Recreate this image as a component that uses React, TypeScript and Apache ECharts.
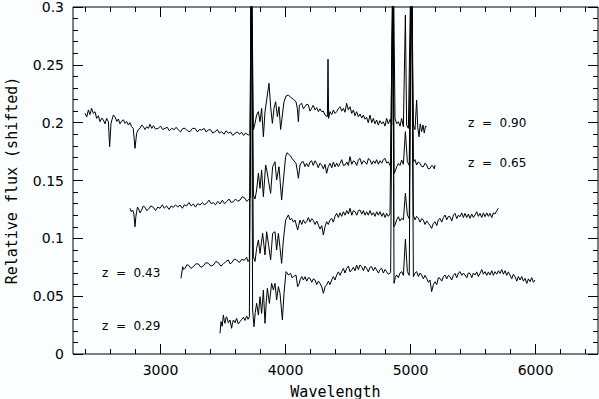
import React, { useEffect, useRef } from "react";
import * as echarts from "echarts";

// Spectra: [wavelength, relative flux (shifted)]
const specZ090: [number, number][] = [
  [2396,0.208],[2410,0.205],[2423,0.211],[2436,0.207],[2449,0.2124],[2462,0.208],[2476,0.2095],[2489,0.2037],[2503,0.206],[2516,0.2008],[2530,0.204],[2543,0.2023],[2556,0.199],[2569,0.2037],[2583,0.2008],[2593,0.1792],[2604,0.1994],[2613,0.203],[2623,0.2066],[2636,0.2052],[2650,0.201],[2663,0.2032],[2676,0.199],[2689,0.2014],[2703,0.2025],[2716,0.1994],[2729,0.201],[2743,0.198],[2756,0.2],[2769,0.1965],[2782,0.195],[2796,0.1778],[2809,0.1908],[2822,0.194],[2836,0.1951],[2850,0.198],[2863,0.1965],[2876,0.194],[2889,0.1965],[2903,0.195],[2916,0.1986],[2930,0.195],[2943,0.1974],[2960,0.1945],[2983,0.1951],[3000,0.197],[3018,0.194],[3036,0.1951],[3055,0.196],[3070,0.193],[3089,0.1951],[3110,0.194],[3125,0.196],[3143,0.1937],[3160,0.192],[3178,0.195],[3196,0.1951],[3215,0.193],[3236,0.1922],[3255,0.195],[3276,0.1951],[3295,0.192],[3310,0.194],[3329,0.1937],[3350,0.195],[3365,0.192],[3383,0.1937],[3400,0.194],[3418,0.191],[3436,0.1922],[3455,0.194],[3470,0.191],[3489,0.1922],[3508,0.19],[3525,0.193],[3543,0.1908],[3560,0.192],[3578,0.189],[3596,0.1908],[3615,0.192],[3630,0.19],[3649,0.1917],[3665,0.189],[3680,0.191],[3703,0.1893],[3716,0.19],[3727,0.36],[3743,0.1937],[3756,0.1994],[3769,0.2066],[3783,0.2095],[3796,0.2008],[3809,0.2124],[3823,0.1879],[3836,0.2095],[3849,0.2196],[3868,0.234],[3881,0.2138],[3895,0.1994],[3908,0.2124],[3921,0.2181],[3935,0.2052],[3948,0.2138],[3961,0.1942],[3975,0.2066],[3988,0.2181],[4004,0.223],[4023,0.2239],[4041,0.2219],[4063,0.2202],[4084,0.2181],[4095,0.212],[4103,0.2008],[4111,0.2153],[4129,0.2167],[4143,0.212],[4156,0.2138],[4170,0.216],[4183,0.2153],[4196,0.21],[4209,0.2124],[4222,0.215],[4236,0.211],[4250,0.213],[4263,0.2095],[4276,0.212],[4289,0.2095],[4303,0.21],[4316,0.2066],[4335,0.2052],[4340,0.2548],[4345,0.2037],[4356,0.2095],[4370,0.207],[4383,0.211],[4396,0.208],[4409,0.2095],[4422,0.212],[4436,0.2138],[4450,0.21],[4463,0.2124],[4476,0.209],[4489,0.2167],[4503,0.211],[4516,0.2138],[4530,0.208],[4543,0.211],[4556,0.206],[4569,0.2095],[4583,0.205],[4596,0.2075],[4610,0.204],[4623,0.2066],[4636,0.203],[4649,0.2046],[4662,0.2],[4676,0.2066],[4690,0.2],[4703,0.2037],[4716,0.199],[4729,0.2023],[4742,0.198],[4756,0.2017],[4770,0.199],[4783,0.2008],[4796,0.197],[4809,0.2037],[4822,0.199],[4836,0.2028],[4850,0.198],[4861,0.36],[4876,0.2037],[4890,0.199],[4903,0.2008],[4916,0.197],[4929,0.2037],[4943,0.1965],[4959,0.293],[4969,0.198],[4983,0.1951],[5007,0.36],[5023,0.198],[5036,0.194],[5049,0.2196],[5058,0.196],[5068,0.1878],[5078,0.199],[5089,0.1922],[5100,0.198],[5110,0.191],[5120,0.197],[5129,0.1965]
];

const specZ065: [number, number][] = [
  [2756,0.126],[2766,0.123],[2777,0.1245],[2787,0.121],[2796,0.11],[2803,0.119],[2809,0.123],[2816,0.127],[2823,0.126],[2836,0.122],[2849,0.1245],[2862,0.128],[2876,0.1268],[2890,0.124],[2903,0.1251],[2922,0.128],[2943,0.1268],[2960,0.124],[2978,0.127],[2996,0.126],[3015,0.129],[3030,0.126],[3049,0.128],[3068,0.125],[3085,0.128],[3103,0.1268],[3120,0.129],[3138,0.127],[3156,0.1288],[3175,0.126],[3190,0.129],[3209,0.128],[3228,0.131],[3245,0.128],[3263,0.1297],[3280,0.127],[3298,0.13],[3316,0.1288],[3335,0.131],[3350,0.129],[3369,0.1303],[3388,0.133],[3405,0.13],[3423,0.1308],[3440,0.129],[3458,0.132],[3476,0.1297],[3495,0.133],[3512,0.13],[3529,0.1317],[3548,0.134],[3565,0.131],[3583,0.1317],[3600,0.134],[3618,0.132],[3636,0.1331],[3655,0.136],[3676,0.1346],[3690,0.132],[3703,0.1331],[3718,0.135],[3727,0.36],[3743,0.1375],[3756,0.134],[3769,0.1418],[3783,0.1562],[3796,0.1432],[3809,0.1591],[3823,0.136],[3841,0.1634],[3852,0.158],[3863,0.1504],[3881,0.1389],[3897,0.1619],[3916,0.1662],[3929,0.1504],[3948,0.1619],[3958,0.148],[3969,0.1331],[3983,0.1504],[4001,0.1706],[4012,0.174],[4023,0.1729],[4041,0.1712],[4052,0.169],[4063,0.1677],[4084,0.1648],[4095,0.158],[4103,0.1519],[4116,0.1634],[4130,0.166],[4143,0.1662],[4156,0.162],[4169,0.1648],[4183,0.162],[4196,0.166],[4209,0.1671],[4222,0.163],[4236,0.167],[4249,0.1648],[4262,0.161],[4276,0.165],[4289,0.1634],[4303,0.16],[4316,0.164],[4329,0.1562],[4342,0.162],[4356,0.1648],[4370,0.161],[4383,0.166],[4396,0.1619],[4410,0.165],[4423,0.162],[4436,0.1648],[4450,0.168],[4463,0.163],[4476,0.1634],[4490,0.166],[4503,0.163],[4516,0.1706],[4530,0.164],[4543,0.167],[4556,0.1662],[4570,0.163],[4583,0.168],[4596,0.1691],[4610,0.164],[4623,0.167],[4636,0.1662],[4650,0.164],[4663,0.169],[4676,0.1677],[4690,0.164],[4703,0.167],[4716,0.1648],[4729,0.168],[4743,0.164],[4756,0.1671],[4770,0.165],[4783,0.168],[4796,0.1691],[4810,0.165],[4823,0.1662],[4841,0.1619],[4861,0.36],[4868,0.156],[4876,0.1576],[4890,0.162],[4903,0.1648],[4916,0.163],[4929,0.1677],[4943,0.164],[4959,0.1922],[4975,0.1662],[4990,0.163],[5007,0.36],[5023,0.1662],[5036,0.168],[5049,0.1634],[5062,0.166],[5076,0.1648],[5090,0.162],[5103,0.1619],[5116,0.165],[5129,0.1634],[5142,0.16],[5156,0.1605],[5170,0.163],[5183,0.1619],[5190,0.16],[5196,0.1634]
];

const specZ043: [number, number][] = [
  [3164,0.0654],[3177,0.0755],[3186,0.073],[3196,0.0741],[3210,0.077],[3223,0.0769],[3243,0.074],[3263,0.0755],[3283,0.078],[3303,0.0778],[3323,0.075],[3343,0.0761],[3363,0.079],[3383,0.0784],[3403,0.076],[3423,0.0769],[3443,0.08],[3463,0.0789],[3483,0.076],[3503,0.0778],[3523,0.08],[3543,0.0813],[3556,0.078],[3569,0.0789],[3590,0.082],[3609,0.0813],[3630,0.079],[3649,0.0818],[3670,0.081],[3689,0.0836],[3700,0.08],[3711,0.0818],[3727,0.36],[3743,0.0841],[3756,0.08],[3769,0.0913],[3783,0.0986],[3796,0.087],[3817,0.1043],[3836,0.0856],[3849,0.1057],[3865,0.094],[3881,0.0813],[3897,0.1043],[3916,0.1057],[3929,0.0899],[3943,0.1043],[3956,0.092],[3969,0.0784],[3983,0.0986],[4001,0.1158],[4012,0.118],[4023,0.1202],[4036,0.116],[4049,0.1173],[4063,0.114],[4076,0.1158],[4097,0.1072],[4105,0.111],[4116,0.1158],[4130,0.112],[4143,0.116],[4156,0.113],[4169,0.1144],[4183,0.118],[4196,0.114],[4210,0.117],[4223,0.1153],[4236,0.112],[4250,0.115],[4263,0.1115],[4276,0.108],[4290,0.111],[4303,0.1029],[4316,0.11],[4329,0.1144],[4342,0.112],[4356,0.116],[4369,0.1173],[4383,0.114],[4396,0.119],[4409,0.1216],[4423,0.118],[4436,0.122],[4449,0.119],[4463,0.123],[4476,0.12],[4490,0.124],[4503,0.121],[4516,0.126],[4530,0.12],[4543,0.124],[4556,0.123],[4570,0.12],[4583,0.124],[4596,0.1245],[4610,0.121],[4623,0.124],[4636,0.12],[4649,0.123],[4663,0.12],[4676,0.124],[4690,0.12],[4703,0.1222],[4716,0.119],[4729,0.123],[4743,0.12],[4756,0.123],[4770,0.119],[4783,0.122],[4796,0.118],[4809,0.1216],[4822,0.119],[4836,0.121],[4861,0.36],[4866,0.11],[4876,0.1115],[4890,0.116],[4903,0.1187],[4916,0.115],[4929,0.1173],[4943,0.116],[4959,0.139],[4975,0.1202],[4990,0.117],[5007,0.36],[5023,0.1202],[5036,0.116],[5049,0.119],[5063,0.1173],[5076,0.114],[5090,0.117],[5103,0.1158],[5116,0.112],[5130,0.115],[5143,0.113],[5156,0.111],[5169,0.1086],[5183,0.113],[5196,0.1144],[5210,0.111],[5223,0.116],[5236,0.1173],[5250,0.114],[5263,0.118],[5276,0.1202],[5290,0.116],[5303,0.119],[5316,0.1187],[5330,0.115],[5343,0.12],[5356,0.1216],[5370,0.117],[5383,0.12],[5396,0.1187],[5410,0.122],[5423,0.118],[5436,0.1216],[5450,0.118],[5463,0.121],[5476,0.1173],[5490,0.121],[5503,0.118],[5516,0.1202],[5530,0.123],[5543,0.119],[5556,0.1216],[5570,0.118],[5583,0.122],[5596,0.1187],[5610,0.122],[5623,0.119],[5636,0.1216],[5650,0.118],[5663,0.122],[5676,0.121],[5690,0.124],[5703,0.126]
];

const specZ029: [number, number][] = [
  [3476,0.0179],[3484,0.028],[3493,0.024],[3503,0.0337],[3510,0.029],[3516,0.0265],[3523,0.031],[3529,0.0322],[3543,0.027],[3556,0.0294],[3569,0.0222],[3576,0.027],[3583,0.0294],[3596,0.027],[3609,0.0308],[3622,0.026],[3636,0.028],[3650,0.03],[3663,0.0317],[3676,0.029],[3689,0.0329],[3700,0.03],[3711,0.0322],[3727,0.36],[3737,0.038],[3748,0.0236],[3758,0.036],[3769,0.0438],[3783,0.0337],[3796,0.0495],[3809,0.0351],[3823,0.0553],[3836,0.0265],[3846,0.045],[3855,0.0568],[3871,0.0438],[3889,0.0611],[3903,0.0553],[3916,0.0611],[3929,0.0467],[3943,0.0582],[3956,0.0525],[3975,0.0294],[3988,0.0525],[4004,0.0712],[4014,0.07],[4023,0.0683],[4041,0.0697],[4052,0.066],[4063,0.0668],[4084,0.0683],[4097,0.0582],[4111,0.0611],[4116,0.064],[4130,0.067],[4143,0.064],[4156,0.0668],[4170,0.063],[4183,0.066],[4196,0.0654],[4210,0.062],[4223,0.065],[4236,0.064],[4250,0.06],[4263,0.063],[4276,0.0611],[4290,0.058],[4303,0.0525],[4316,0.058],[4329,0.0597],[4343,0.063],[4356,0.06],[4369,0.064],[4383,0.067],[4396,0.064],[4409,0.0683],[4423,0.071],[4436,0.068],[4449,0.0712],[4463,0.074],[4476,0.07],[4489,0.0741],[4503,0.076],[4516,0.071],[4529,0.0726],[4543,0.075],[4556,0.072],[4569,0.0769],[4583,0.073],[4596,0.077],[4609,0.0755],[4623,0.072],[4636,0.076],[4649,0.0741],[4663,0.071],[4676,0.075],[4689,0.0755],[4703,0.072],[4716,0.075],[4729,0.0726],[4743,0.07],[4756,0.073],[4769,0.0741],[4783,0.07],[4796,0.073],[4809,0.0712],[4822,0.069],[4841,0.0703],[4861,0.36],[4868,0.0611],[4878,0.066],[4889,0.0683],[4903,0.066],[4916,0.07],[4929,0.0712],[4943,0.068],[4959,0.0992],[4975,0.0712],[4990,0.068],[5007,0.36],[5023,0.0668],[5036,0.07],[5049,0.0712],[5063,0.067],[5076,0.07],[5089,0.0683],[5103,0.065],[5116,0.068],[5129,0.0654],[5143,0.062],[5156,0.064],[5169,0.0539],[5183,0.06],[5196,0.0625],[5210,0.06],[5223,0.066],[5236,0.0654],[5250,0.063],[5263,0.067],[5276,0.0683],[5290,0.065],[5303,0.068],[5316,0.0668],[5330,0.064],[5343,0.068],[5356,0.0697],[5370,0.066],[5383,0.07],[5396,0.0712],[5410,0.068],[5423,0.07],[5436,0.0683],[5450,0.066],[5463,0.07],[5476,0.0697],[5490,0.066],[5503,0.07],[5516,0.0683],[5530,0.071],[5543,0.067],[5556,0.0697],[5570,0.073],[5583,0.069],[5596,0.0712],[5610,0.068],[5623,0.071],[5636,0.0683],[5650,0.072],[5663,0.068],[5676,0.0712],[5690,0.069],[5703,0.072],[5716,0.0697],[5730,0.073],[5743,0.069],[5756,0.072],[5770,0.068],[5783,0.071],[5796,0.0683],[5810,0.065],[5823,0.069],[5836,0.0668],[5850,0.063],[5863,0.067],[5876,0.064],[5890,0.067],[5903,0.063],[5916,0.0654],[5930,0.061],[5943,0.065],[5956,0.0625],[5970,0.066],[5983,0.062],[5996,0.064]
];

const spectra = [specZ090, specZ065, specZ043, specZ029];
const redshiftLabels = ["z  =  0.90", "z  =  0.65", "z  =  0.43", "z  =  0.29"];

const xMajorTicks = [3000, 4000, 5000, 6000];
const xMinorTicks = [2400, 2600, 2800, 3200, 3400, 3600, 3800, 4200, 4400, 4600, 4800, 5200, 5400, 5600, 5800, 6200, 6400];

const X_MIN = 2300;
const X_MAX = 6500;
const Y_MIN = 0;
const Y_MAX = 0.3;
const Y_STEP = 0.05;

const labelPos: [number, number][] = [
  [468, 123],
  [468, 163],
  [102, 273],
  [102, 326],
];

const BLACK = "#000";
const TICK_FONT = "DejaVu Sans";
const TITLE_FONT = "DejaVu Sans Mono";

const tickLine = () => ({ color: BLACK, width: 1 });

function xAxisDef(position: "bottom" | "top", ticks: number[], len: number, withLabels: boolean) {
  return {
    type: "value",
    min: X_MIN,
    max: X_MAX,
    position,
    splitLine: { show: false },
    axisLine: { show: false, onZero: false },
    axisTick: { show: true, inside: true, length: len, customValues: ticks, lineStyle: tickLine() },
    axisLabel: withLabels
      ? {
          show: true,
          customValues: ticks,
          formatter: (v: number) => String(v),
          color: BLACK,
          fontFamily: TICK_FONT,
          fontSize: 14,
          margin: 9,
        }
      : { show: false },
    ...(withLabels
      ? {
          name: "Wavelength",
          nameLocation: "middle",
          nameGap: 30,
          nameTextStyle: { color: BLACK, fontFamily: TITLE_FONT, fontSize: 15 },
        }
      : {}),
  };
}

function yAxisDef(position: "left" | "right", withLabels: boolean) {
  return {
    type: "value",
    min: Y_MIN,
    max: Y_MAX,
    interval: Y_STEP,
    position,
    splitLine: { show: false },
    axisLine: { show: false, onZero: false },
    axisTick: { show: true, inside: true, length: 10, lineStyle: tickLine() },
    minorTick: { show: true, splitNumber: 5, length: 5, lineStyle: tickLine() },
    axisLabel: withLabels
      ? { show: true, color: BLACK, fontFamily: TICK_FONT, fontSize: 14, margin: 9 }
      : { show: false },
    ...(withLabels
      ? {
          name: "Relative flux (shifted)",
          nameLocation: "middle",
          nameGap: 54,
          nameTextStyle: { color: BLACK, fontFamily: TITLE_FONT, fontSize: 15 },
        }
      : {}),
  };
}

export default function App() {
  const ref = useRef<HTMLDivElement>(null);
  useEffect(() => {
    if (!ref.current) return;
    const chart = echarts.init(ref.current, undefined, { renderer: "svg" });
    chart.setOption({
      animation: false,
      backgroundColor: "#fbfeff",
      grid: {
        left: 73,
        top: 7,
        right: 1,
        bottom: 45,
        containLabel: false,
        outerBoundsMode: "none",
        show: true,
        borderColor: BLACK,
        borderWidth: 1,
        backgroundColor: "transparent",
      },
      xAxis: [
        xAxisDef("bottom", xMajorTicks, 10, true),
        xAxisDef("bottom", xMinorTicks, 5, false),
        xAxisDef("top", xMajorTicks, 10, false),
        xAxisDef("top", xMinorTicks, 5, false),
      ],
      yAxis: [yAxisDef("left", true), yAxisDef("right", false)],
      series: spectra.map((d) => ({
        type: "line",
        xAxisIndex: 0,
        yAxisIndex: 0,
        data: d,
        showSymbol: false,
        symbol: "none",
        clip: true,
        lineStyle: { color: BLACK, width: 1 },
        emphasis: { disabled: true },
      })),
      graphic: redshiftLabels.map((t, i) => ({
        type: "text",
        x: labelPos[i][0],
        y: labelPos[i][1],
        style: {
          text: t,
          fill: BLACK,
          fontFamily: TICK_FONT,
          fontSize: 12,
          verticalAlign: "middle",
        },
      })),
    });
    return () => chart.dispose();
  }, []);
  return (
    <div
      ref={ref}
      style={{ position: "absolute", left: 0, top: 0, width: 599, height: 399 }}
    />
  );
}
